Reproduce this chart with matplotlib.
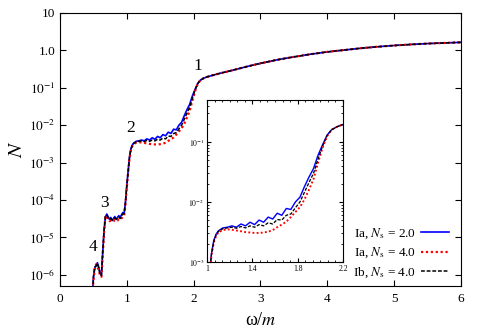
import matplotlib as mpl
mpl.use('Agg')
from matplotlib import pyplot as plt
from matplotlib.ticker import FixedLocator, FixedFormatter, LogLocator, NullFormatter, AutoMinorLocator
import numpy as np

plt.rcParams['font.family'] = ['Liberation Serif', 'DejaVu Serif']
plt.rcParams['mathtext.fontset'] = 'stix'

# frequency grid (omega/m)
omega_low = [0.49, 0.50, 0.52, 0.54, 0.56, 0.58, 0.60, 0.62, 0.64, 0.66, 0.68, 0.70,
             0.72, 0.74, 0.76, 0.78, 0.80, 0.82, 0.84, 0.86, 0.88, 0.90, 0.92, 0.94,
             0.96, 0.98, 1.00, 1.02, 1.04, 1.06, 1.08, 1.10]
omega_mid = [1.14, 1.18, 1.22, 1.26, 1.30, 1.34, 1.38, 1.42, 1.46, 1.50, 1.54, 1.58,
             1.62, 1.66, 1.70, 1.74, 1.78, 1.82, 1.86, 1.90, 1.94, 1.98, 2.02, 2.06]
omega_high = [2.10, 2.15, 2.20, 2.30, 2.40, 2.50, 2.60, 2.80, 3.00, 3.25, 3.50, 3.75,
              4.00, 4.25, 4.50, 4.75, 5.00, 5.25, 5.50, 5.75, 6.00]

# Ia, Ns = 2.0
blue_low = [4e-7, 8e-7, 1.5e-6, 1.8e-6, 2.1e-6, 1.6e-6, 1.1e-6, 1.0e-6, 4e-6, 1.5e-5, 3.5e-5, 4.2e-5,
            3.6e-5, 3.0e-5, 3.4e-5, 2.8e-5, 3.2e-5, 3.6e-5, 3.0e-5, 3.4e-5, 3.8e-5, 3.4e-5, 4.0e-5, 4.6e-5,
            4.4e-5, 9e-5, 2.5e-4, 6e-4, 1.4e-3, 2.3e-3, 2.9e-3, 3.3e-3]
blue_mid = [3.7e-3, 3.8e-3, 4.0e-3, 3.8e-3, 4.3e-3, 4.0e-3, 4.6e-3, 4.2e-3, 5.0e-3, 4.6e-3, 5.6e-3, 5.2e-3,
            6.5e-3, 6.0e-3, 7.8e-3, 7.5e-3, 1.0e-2, 1.2e-2, 1.8e-2, 2.6e-2, 3.6e-2, 6.0e-2, 9.0e-2, 1.3e-1]

# Ia, Ns = 4.0
red_low = [4e-7, 7e-7, 1.4e-6, 1.9e-6, 1.7e-6, 1.3e-6, 9.5e-7, 8.8e-7, 3.5e-6, 1.4e-5, 3.8e-5, 3.6e-5,
           3.0e-5, 2.7e-5, 2.8e-5, 2.6e-5, 2.7e-5, 2.9e-5, 2.7e-5, 2.8e-5, 3.0e-5, 2.9e-5, 3.2e-5, 3.6e-5,
           3.8e-5, 8e-5, 2.2e-4, 5.5e-4, 1.3e-3, 2.1e-3, 2.7e-3, 3.1e-3]
red_mid = [3.4e-3, 3.5e-3, 3.45e-3, 3.35e-3, 3.25e-3, 3.15e-3, 3.1e-3, 3.05e-3, 3.05e-3, 3.1e-3, 3.2e-3, 3.4e-3,
           3.8e-3, 4.2e-3, 4.7e-3, 5.6e-3, 6.8e-3, 8.2e-3, 1.1e-2, 1.6e-2, 2.4e-2, 4.5e-2, 8.0e-2, 1.25e-1]

# Ib, Ns = 4.0
black_low = [4e-7, 9e-7, 1.6e-6, 1.7e-6, 2.0e-6, 1.5e-6, 1.0e-6, 9.5e-7, 4.5e-6, 1.6e-5, 3.6e-5, 4.0e-5,
             3.3e-5, 3.1e-5, 3.2e-5, 2.9e-5, 3.0e-5, 3.3e-5, 3.1e-5, 3.2e-5, 3.5e-5, 3.2e-5, 3.7e-5, 4.2e-5,
             4.3e-5, 8.5e-5, 2.4e-4, 5.8e-4, 1.35e-3, 2.2e-3, 2.8e-3, 3.2e-3]
black_mid = [3.6e-3, 3.7e-3, 3.8e-3, 3.65e-3, 3.9e-3, 3.7e-3, 4.0e-3, 3.8e-3, 4.2e-3, 4.0e-3, 4.5e-3, 4.3e-3,
             5.1e-3, 5.0e-3, 6.0e-3, 6.3e-3, 8.0e-3, 1.0e-2, 1.45e-2, 2.1e-2, 3.0e-2, 5.2e-2, 8.5e-2, 1.28e-1]

# common high-frequency part
n_high = [0.16, 0.18, 0.195, 0.22, 0.245, 0.27, 0.30, 0.37, 0.45, 0.56, 0.67, 0.79,
          0.91, 1.02, 1.14, 1.25, 1.35, 1.44, 1.52, 1.58, 1.64]

labels = [r'Ia, $N_\mathrm{s}$ = 2.0', r'Ia, $N_\mathrm{s}$ = 4.0', r'Ib, $N_\mathrm{s}$ = 4.0']
peak_labels = ['1', '2', '3', '4']
peak_x = [2.06, 1.06, 0.66, 0.49]
peak_y = [0.38, 8.5e-3, 8.3e-5, 5.6e-6]

omega = np.array(omega_low + omega_mid + omega_high)
series = [np.array(blue_low + blue_mid + n_high),
          np.array(red_low + red_mid + n_high),
          np.array(black_low + black_mid + n_high)]
styles = [dict(color='#0000ff', ls='-', lw=1.2),
          dict(color='#ff0000', ls=(0, (1, 1.2)), lw=1.6),
          dict(color='black', ls=(0, (2.5, 1.2)), lw=1.1)]

fig = plt.figure(figsize=(4.78, 3.32), dpi=100)
ax = fig.add_axes([0.1255, 0.1386, 0.8389, 0.8223])

for y, st, lab in zip(series, styles, labels):
  ax.plot(omega, y, label=lab, **st)

ax.set_yscale('log')
ax.set_xlim(0, 6)
ax.set_ylim(5e-7, 10)
ax.set_xticks([0, 1, 2, 3, 4, 5, 6])
ax.yaxis.set_major_locator(FixedLocator([1e-6, 1e-5, 1e-4, 1e-3, 1e-2, 1e-1, 1, 10]))
ax.yaxis.set_major_formatter(FixedFormatter([r'$10^{-6}$', r'$10^{-5}$', r'$10^{-4}$', r'$10^{-3}$',
                                             r'$10^{-2}$', r'$10^{-1}$', '1.0', '10']))
ax.yaxis.set_minor_locator(FixedLocator([]))
ax.tick_params(which='both', direction='in', top=True, right=True, labelsize=9.5, length=4)
ax.tick_params(axis='x', pad=5)
ax.set_xlabel(r'ω/$m$', fontsize=13, labelpad=5)
ax.set_ylabel(r'$N$', fontsize=15, labelpad=1)

for t, px, py in zip(peak_labels, peak_x, peak_y):
  ax.text(px, py, t, fontsize=12.5, ha='center', va='center')

ax.legend(loc='lower right', frameon=False, fontsize=9.5, markerfirst=False, handlelength=2.1,
          handletextpad=0.4, labelspacing=0.35, bbox_to_anchor=(1.0, -0.02))

# inset
axin = fig.add_axes([0.433, 0.2108, 0.2845, 0.488])
for y, st in zip(series, styles):
  st_in = dict(st)
  st_in['lw'] = st['lw'] * 0.85
  axin.plot(omega, y, **st_in)
axin.set_yscale('log')
axin.set_xlim(1, 2.2)
axin.set_ylim(1e-3, 0.5)
axin.set_xticks([1, 1.4, 1.8, 2.2])
axin.set_xticklabels(['1', '1.4', '1.8', '2.2'])
axin.xaxis.set_minor_locator(AutoMinorLocator(6))
axin.yaxis.set_major_locator(FixedLocator([1e-3, 1e-2, 1e-1]))
axin.yaxis.set_major_formatter(FixedFormatter([r'$10^{-3}$', r'$10^{-2}$', r'$10^{-1}$']))
axin.yaxis.set_minor_locator(LogLocator(base=10, subs=np.arange(2, 10)))
axin.yaxis.set_minor_formatter(NullFormatter())
axin.tick_params(which='both', direction='in', top=True, right=True, labelsize=5.5, pad=2)
axin.tick_params(which='major', length=3)
axin.tick_params(which='minor', length=1.5)
for s in axin.spines.values():
  s.set_linewidth(0.8)

plt.savefig('out.png', dpi=100)
